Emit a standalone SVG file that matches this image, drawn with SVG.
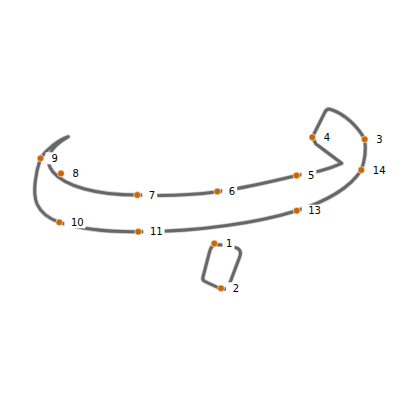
<svg xmlns="http://www.w3.org/2000/svg" width="400" height="400" viewBox="0 0 400 400">
<defs>
<style>
.stroke{fill:none;stroke:#676767;stroke-width:3;stroke-linecap:round;stroke-linejoin:round}
.halo{fill:none;stroke:#cfcfcf;stroke-width:4.6;stroke-linecap:round;stroke-linejoin:round}
.bg{fill:#fff}
.dot{fill:#cc6600;stroke:#fff;stroke-width:0.6}
.lbl{font-family:"DejaVu Sans","Liberation Sans",sans-serif;font-size:10px;fill:#000}
</style>
</defs>
<rect width="400" height="400" fill="#fff"/>
<g id="connectors">
<path id="outline-halo" class="halo" d="M68.3,136.7 C58,140 46,150 40.5,158.3 C36,172 32,192 37,204 C41,213 50,219 59.3,222.3 C80,229 110,232 138.3,231.7 C200,232 260,222 296.7,210.7 C325,202 350,188 361.3,170 C365,160 366,148 364.7,139.3 C358,127 345,114 331,109.5 Q327,108 325,112 L312.3,137.3 L316,144 L341.7,163.3 Q322,172 296.7,175.5 C270,182 245,188 217.3,191.7 S160,196 137.3,195 C95,195 65,186 53,172 C44,161 48,148 68.3,136.7 Z"/>
<path id="outline" class="stroke" d="M68.3,136.7 C58,140 46,150 40.5,158.3 C36,172 32,192 37,204 C41,213 50,219 59.3,222.3 C80,229 110,232 138.3,231.7 C200,232 260,222 296.7,210.7 C325,202 350,188 361.3,170 C365,160 366,148 364.7,139.3 C358,127 345,114 331,109.5 Q327,108 325,112 L312.3,137.3 L316,144 L341.7,163.3 Q322,172 296.7,175.5 C270,182 245,188 217.3,191.7 S160,196 137.3,195 C95,195 65,186 53,172 C44,161 48,148 68.3,136.7 Z"/>
<path id="dot-halo" class="halo" d="M222,245 L215,244.5 Q211,246 209.5,252 L203,277 Q202,280 205,281.5 L220,288.5 Q224,290 228,288 L240,256 Q242,249 235,247.5"/>
<path id="dot-stroke" class="stroke" d="M222,245 L215,244.5 Q211,246 209.5,252 L203,277 Q202,280 205,281.5 L220,288.5 Q224,290 228,288 L240,256 Q242,249 235,247.5"/>
</g>
<g id="n1"><rect class="bg" x="222.5" y="237.5" width="12" height="12"/><circle class="dot" cx="214.3" cy="243.5" r="3.4"/><text class="lbl" x="226" y="247">1</text></g>
<g id="n2"><rect class="bg" x="226" y="282.3" width="14.9" height="12"/><circle class="dot" cx="221" cy="288.3" r="3.4"/><text class="lbl" x="232.7" y="291.8">2</text></g>
<g id="n3"><rect class="bg" x="369.7" y="133.3" width="14.9" height="12"/><circle class="dot" cx="364.7" cy="139.3" r="3.4"/><text class="lbl" x="376.2" y="142.8">3</text></g>
<g id="n4"><rect class="bg" x="317.3" y="131.3" width="14.9" height="12"/><circle class="dot" cx="312.3" cy="137.3" r="3.4"/><text class="lbl" x="323.8" y="140.8">4</text></g>
<g id="n5"><rect class="bg" x="301.5" y="169.5" width="14.9" height="12"/><circle class="dot" cx="296.5" cy="175.5" r="3.4"/><text class="lbl" x="308" y="179">5</text></g>
<g id="n6"><rect class="bg" x="222.3" y="185.5" width="14.9" height="12"/><circle class="dot" cx="217.3" cy="191.5" r="3.4"/><text class="lbl" x="228.8" y="195">6</text></g>
<g id="n7"><rect class="bg" x="142.3" y="189" width="14.9" height="12"/><circle class="dot" cx="137.3" cy="195" r="3.4"/><text class="lbl" x="148.8" y="198.5">7</text></g>
<g id="n8"><rect class="bg" x="66" y="167.5" width="14.9" height="12"/><circle class="dot" cx="61" cy="173.5" r="3.4"/><text class="lbl" x="72.5" y="177">8</text></g>
<g id="n9"><rect class="bg" x="45.5" y="152.3" width="14.9" height="12"/><circle class="dot" cx="40.5" cy="158.3" r="3.4"/><text class="lbl" x="51.5" y="161.8">9</text></g>
<g id="n10"><rect class="bg" x="64.3" y="216.3" width="21.3" height="12"/><circle class="dot" cx="59.3" cy="222.3" r="3.4"/><text class="lbl" x="71" y="225.8">10</text></g>
<g id="n11"><rect class="bg" x="143.3" y="225.7" width="21.3" height="12"/><circle class="dot" cx="138.3" cy="231.7" r="3.4"/><text class="lbl" x="150" y="235.2">11</text></g>
<g id="n13"><rect class="bg" x="301.7" y="204.7" width="21.3" height="12"/><circle class="dot" cx="296.7" cy="210.7" r="3.4"/><text class="lbl" x="308.2" y="214.2">13</text></g>
<g id="n14"><rect class="bg" x="366.3" y="164" width="21.3" height="12"/><circle class="dot" cx="361.3" cy="170" r="3.4"/><text class="lbl" x="372.8" y="173.5">14</text></g>
</svg>
